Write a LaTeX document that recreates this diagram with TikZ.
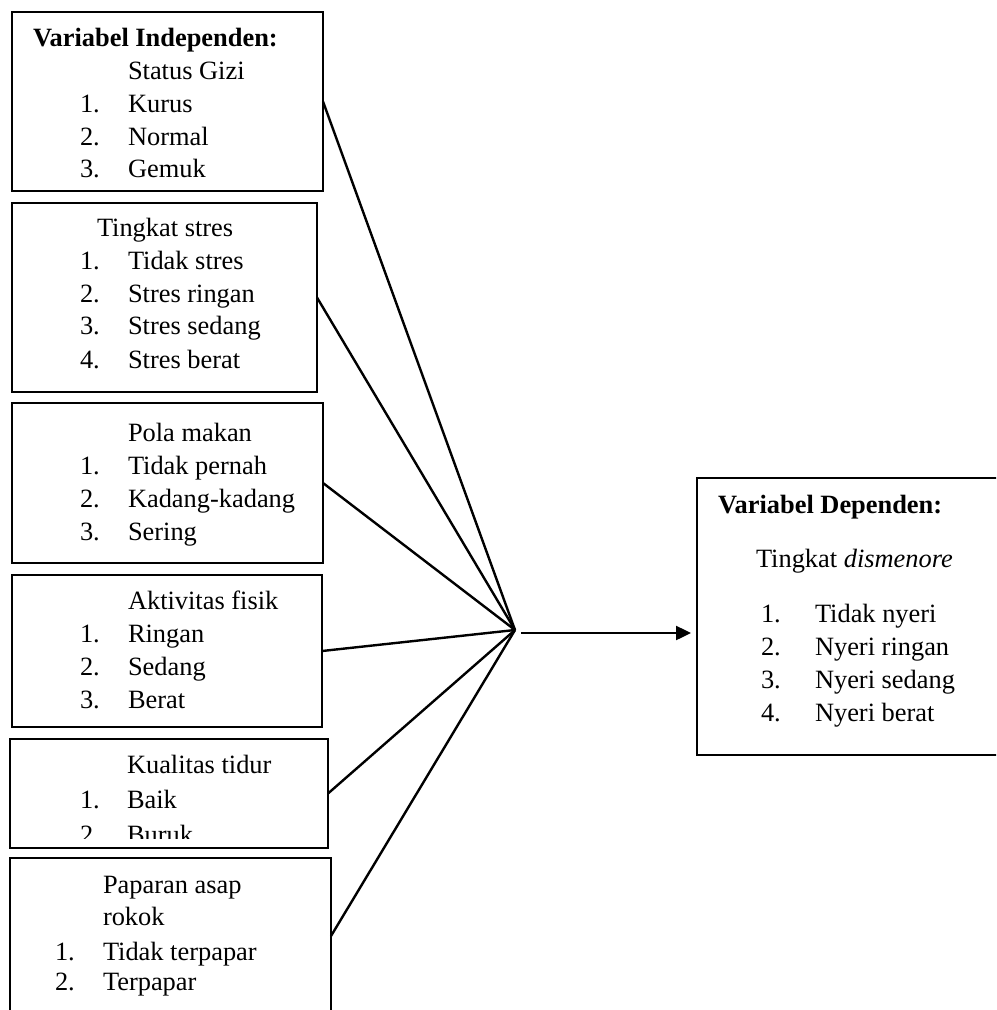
\documentclass[tikz,border=0pt]{standalone}
\usepackage{fontspec}
\setmainfont{Liberation Serif}
\usetikzlibrary{arrows.meta}
\begin{document}
\begin{tikzpicture}[x=0.5pt,y=-0.5pt,
  box/.style={draw, line width=1pt, anchor=north west, inner sep=0pt, outer sep=0pt},
  txt/.style={anchor=base west, inner sep=0pt, outer sep=0pt, font=\fontsize{13.2}{16}\selectfont},
  conn/.style={line width=1.2pt}]
\useasboundingbox (0,0) rectangle (996,1010);
\clip (0,0) rectangle (996,1010);
% boxes
\node[box, minimum width=155.5pt, minimum height=89.5pt] (b1) at (12,12) {};
\node[box, minimum width=152.5pt, minimum height=94.5pt] (b2) at (12,203) {};
\node[box, minimum width=155.5pt, minimum height=80pt] (b3) at (12,403) {};
\node[box, minimum width=155pt, minimum height=76pt] (b4) at (12,575) {};
\node[box, minimum width=159pt, minimum height=54.5pt] (b5) at (10,739) {};
\node[box, minimum width=160.5pt, minimum height=78pt] (b6) at (10,858) {};
\node[box, minimum width=151.5pt, minimum height=138.5pt] (dep) at (697,478) {};
% box 1
\node[txt, font=\fontsize{13.2}{16}\selectfont\bfseries] (t1a) at (33,47) {Variabel Independen:};
\node[txt] (t1b) at (128,80) {Status Gizi};
\node[txt] (t1c) at (80,113) {1.};
\node[txt] (t1d) at (128,113) {Kurus};
\node[txt] (t1e) at (80,146) {2.};
\node[txt] (t1f) at (128,146) {Normal};
\node[txt] (t1g) at (80,178) {3.};
\node[txt] (t1h) at (128,178) {Gemuk};
% box 2
\node[txt] (t2a) at (97,237) {Tingkat stres};
\node[txt] (t2b) at (80,270) {1.};
\node[txt] (t2c) at (128,270) {Tidak stres};
\node[txt] (t2d) at (80,302) {2.};
\node[txt] (t2e) at (128,302) {Stres ringan};
\node[txt] (t2f) at (80,335) {3.};
\node[txt] (t2g) at (128,335) {Stres sedang};
\node[txt] (t2h) at (80,368) {4.};
\node[txt] (t2i) at (128,368) {Stres berat};
% box 3
\node[txt] (t3a) at (128,441) {Pola makan};
\node[txt] (t3b) at (80,474) {1.};
\node[txt] (t3c) at (128,474) {Tidak pernah};
\node[txt] (t3d) at (80,507) {2.};
\node[txt] (t3e) at (128,507) {Kadang-kadang};
\node[txt] (t3f) at (80,540) {3.};
\node[txt] (t3g) at (128,540) {Sering};
% box 4
\node[txt] (t4a) at (128,609) {Aktivitas fisik};
\node[txt] (t4b) at (80,642) {1.};
\node[txt] (t4c) at (128,642) {Ringan};
\node[txt] (t4d) at (80,675) {2.};
\node[txt] (t4e) at (128,675) {Sedang};
\node[txt] (t4f) at (80,708) {3.};
\node[txt] (t4g) at (128,708) {Berat};
% box 5
\node[txt] (t5a) at (127,773) {Kualitas tidur};
\node[txt] (t5b) at (80,808) {1.};
\node[txt] (t5c) at (127,808) {Baik};
\begin{scope}
\clip (0,739) rectangle (340,838);
\node[txt] (t5d) at (80,843) {2.};
\node[txt] (t5e) at (127,843) {Buruk};
\end{scope}
% box 6
\node[txt] (t6a) at (103,893) {Paparan asap};
\node[txt] (t6b) at (103,925) {rokok};
\node[txt] (t6c) at (55,960) {1.};
\node[txt] (t6d) at (103,960) {Tidak terpapar};
\node[txt] (t6e) at (55,990) {2.};
\node[txt] (t6f) at (103,990) {Terpapar};
% dependent
\node[txt, font=\fontsize{13.2}{16}\selectfont\bfseries] (d1) at (718,513) {Variabel Dependen:};
\node[txt] (d2) at (756,567) {Tingkat \textit{dismenore}};
\node[txt] (d3) at (761,622) {1.};
\node[txt] (d4) at (815,622) {Tidak nyeri};
\node[txt] (d5) at (761,655) {2.};
\node[txt] (d6) at (815,655) {Nyeri ringan};
\node[txt] (d7) at (761,688) {3.};
\node[txt] (d8) at (815,688) {Nyeri sedang};
\node[txt] (d9) at (761,721) {4.};
\node[txt] (d10) at (815,721) {Nyeri berat};
% connectors
\coordinate (m) at (515,630);
\coordinate (a) at (521,633);
\foreach \b in {b1,b2,b3,b4,b5,b6} \draw[conn] (\b.east) -- (m);
\draw[conn, -{Triangle[length=7.5pt,width=7pt]}, shorten >=3pt] (a) -- (a -| dep.west);
\end{tikzpicture}
\end{document}
